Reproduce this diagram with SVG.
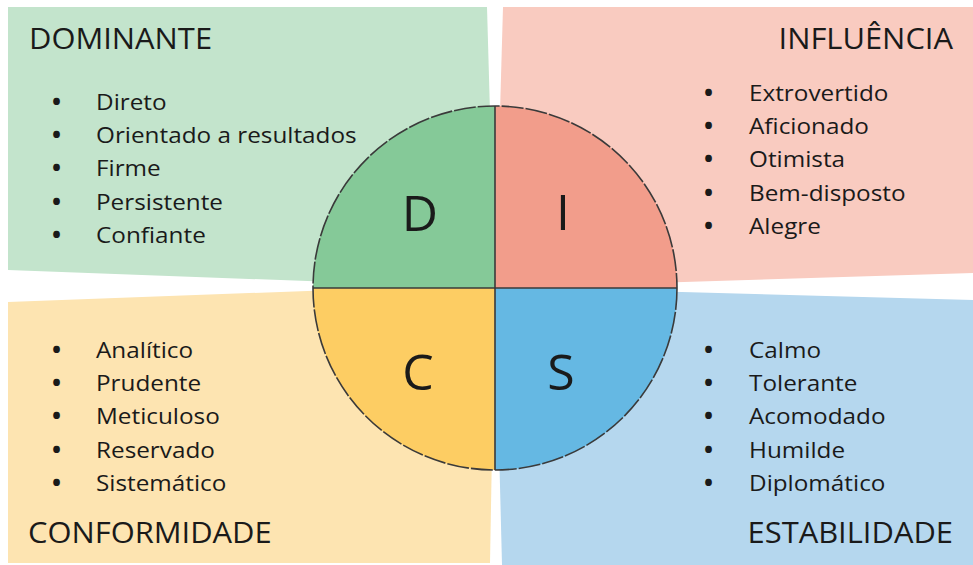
<svg xmlns="http://www.w3.org/2000/svg" width="973" height="565" viewBox="0 0 973 565">
<style>
text{font-family:"Open Sans","Liberation Sans",sans-serif;fill:#1a1a1a}
.title{font-size:30px}
.item{font-size:21.5px}
.dot{font-size:24px;font-weight:bold}
.big{font-size:50px;text-anchor:middle}
.edge{stroke:#3a3a3a;stroke-width:1.6;fill:none}
</style>
<rect width="973" height="565" fill="#ffffff"/>
<g id="dominante">
<polygon points="8,7 487,7 495,288 8,270" fill="#c3e4cc"/>
<text class="title" transform="translate(29,49) scale(1.03,1)">DOMINANTE</text>
<text class="dot" x="52" y="110">•</text>
<text class="dot" x="52" y="143">•</text>
<text class="dot" x="52" y="176">•</text>
<text class="dot" x="52" y="210">•</text>
<text class="dot" x="52" y="243">•</text>
<g transform="translate(96,0) scale(1.13,1)">
<text class="item" y="110">Direto</text>
<text class="item" y="143">Orientado a resultados</text>
<text class="item" y="176">Firme</text>
<text class="item" y="210">Persistente</text>
<text class="item" y="243">Confiante</text>
</g>
</g>
<g id="influencia">
<polygon points="503,7 973,7 973,273 495,288" fill="#f9cbc0"/>
<text class="title" text-anchor="end" transform="translate(953,49) scale(1.03,1)">INFLUÊNCIA</text>
<text class="dot" x="704" y="101">•</text>
<text class="dot" x="704" y="134">•</text>
<text class="dot" x="704" y="167">•</text>
<text class="dot" x="704" y="201">•</text>
<text class="dot" x="704" y="234">•</text>
<g transform="translate(749,0) scale(1.13,1)">
<text class="item" y="101">Extrovertido</text>
<text class="item" y="134">Aficionado</text>
<text class="item" y="167">Otimista</text>
<text class="item" y="201">Bem-disposto</text>
<text class="item" y="234">Alegre</text>
</g>
</g>
<g id="conformidade">
<polygon points="8,302 495,284 490,563 8,563" fill="#fde4b1"/>
<text class="dot" x="52" y="358">•</text>
<text class="dot" x="52" y="391">•</text>
<text class="dot" x="52" y="424">•</text>
<text class="dot" x="52" y="458">•</text>
<text class="dot" x="52" y="491">•</text>
<g transform="translate(96,0) scale(1.13,1)">
<text class="item" y="358">Analítico</text>
<text class="item" y="391">Prudente</text>
<text class="item" y="424">Meticuloso</text>
<text class="item" y="458">Reservado</text>
<text class="item" y="491">Sistemático</text>
</g>
<text class="title" transform="translate(28,543) scale(1.03,1)">CONFORMIDADE</text>
</g>
<g id="estabilidade">
<polygon points="495,287 973,300 973,565 502,565" fill="#b5d7ee"/>
<text class="dot" x="704" y="358">•</text>
<text class="dot" x="704" y="391">•</text>
<text class="dot" x="704" y="424">•</text>
<text class="dot" x="704" y="458">•</text>
<text class="dot" x="704" y="491">•</text>
<g transform="translate(749,0) scale(1.13,1)">
<text class="item" y="358">Calmo</text>
<text class="item" y="391">Tolerante</text>
<text class="item" y="424">Acomodado</text>
<text class="item" y="458">Humilde</text>
<text class="item" y="491">Diplomático</text>
</g>
<text class="title" text-anchor="end" transform="translate(953,543) scale(1.03,1)">ESTABILIDADE</text>
</g>
<g id="disc-circle">
<g id="quadrant-d">
<path d="M495,288 L313,288 A182,182 0 0 1 495,106 Z" fill="#85c998"/>
<text class="big" x="420" y="231">D</text>
</g>
<g id="quadrant-i">
<path d="M495,288 L495,106 A182,182 0 0 1 677,288 Z" fill="#f29d8b"/>
<text class="big" x="563" y="230">I</text>
</g>
<g id="quadrant-c">
<path d="M495,288 L495,470 A182,182 0 0 1 313,288 Z" fill="#fdcd63"/>
<text class="big" x="418" y="390">C</text>
</g>
<g id="quadrant-s">
<path d="M495,288 L677,288 A182,182 0 0 1 495,470 Z" fill="#65b8e3"/>
<text class="big" x="561" y="390">S</text>
</g>
<circle class="edge" cx="495" cy="288" r="182" stroke-dasharray="22 2"/>
</g>
<g id="connectors">
<line class="edge" x1="495" y1="106" x2="495" y2="470"/>
<line class="edge" x1="313" y1="288" x2="677" y2="288"/>
</g>
</svg>
